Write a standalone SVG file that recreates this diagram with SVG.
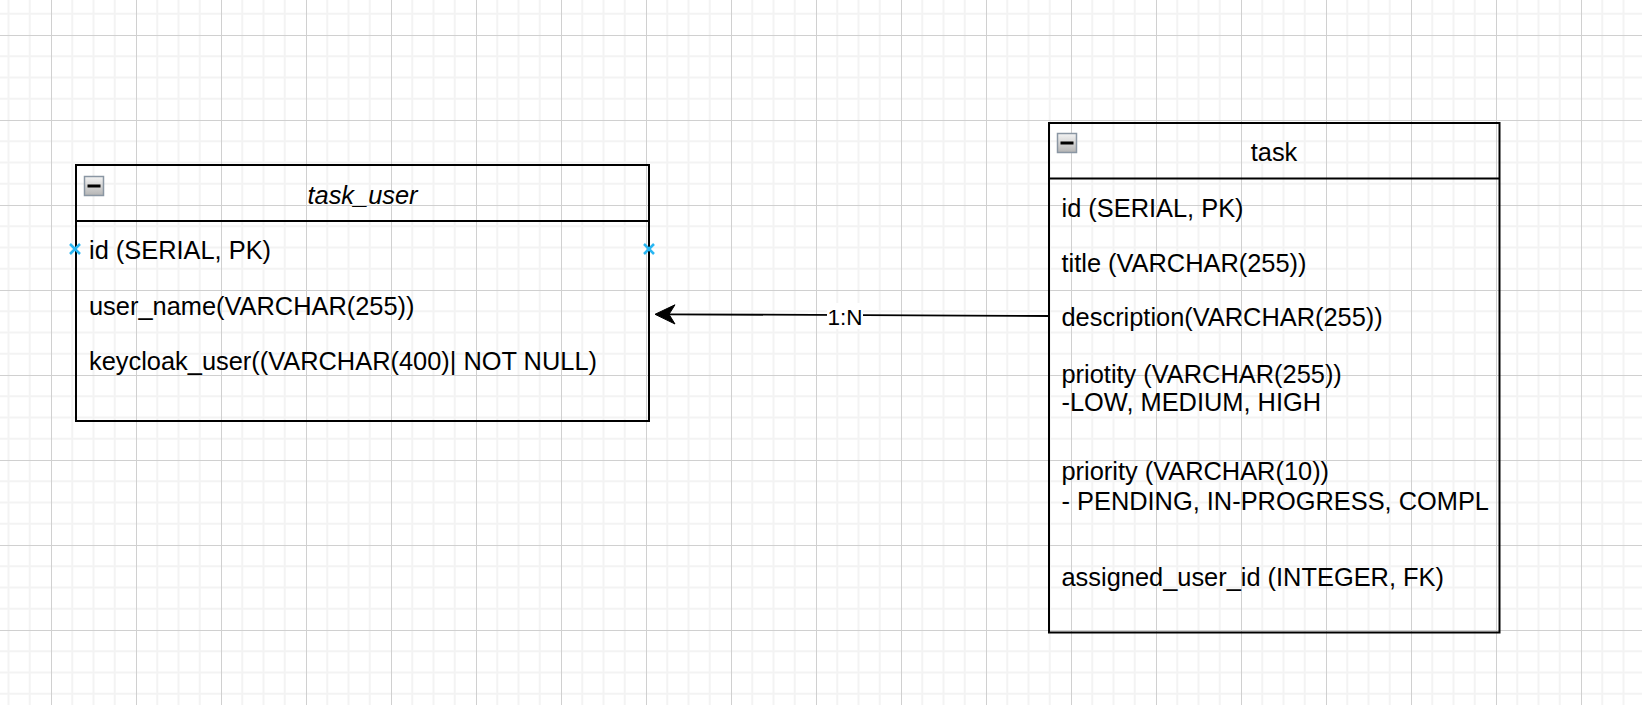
<svg xmlns="http://www.w3.org/2000/svg" width="1642" height="705" viewBox="0 0 1642 705">
  <style>
    .box { fill: none; stroke: #000; stroke-width: 2; }
    .sep { stroke: #000; stroke-width: 2; }
    .t { font-family: "Liberation Sans", Arial, sans-serif; font-size: 25.4px; fill: #000; }
    .title { text-anchor: middle; }
    .it { font-style: italic; }
    .lbl { font-family: "Liberation Sans", Arial, sans-serif; font-size: 22.5px; fill: #000; text-anchor: middle; }
    .edge { stroke: #000; stroke-width: 1.8; fill: none; }
    .cp { stroke: #29b6f2; stroke-width: 2.5; }
  </style>
  <defs>
    <pattern id="grid" patternUnits="userSpaceOnUse" x="51" y="35" width="85" height="85">
      <rect x="20.25" y="0" width="2" height="85" fill="#f3f3f3"/>
      <rect x="41.5" y="0" width="2" height="85" fill="#f3f3f3"/>
      <rect x="62.75" y="0" width="2" height="85" fill="#f3f3f3"/>
      <rect x="0" y="20.25" width="85" height="2" fill="#f3f3f3"/>
      <rect x="0" y="41.5" width="85" height="2" fill="#f3f3f3"/>
      <rect x="0" y="62.75" width="85" height="2" fill="#f3f3f3"/>
      <rect x="0" y="0" width="1" height="85" fill="#d0d0d0"/>
      <rect x="0" y="0" width="85" height="1" fill="#d0d0d0"/>
    </pattern>
    <linearGradient id="btn" x1="0" y1="0" x2="0" y2="1">
      <stop offset="0" stop-color="#f4f4f4"/>
      <stop offset="1" stop-color="#b4b4b4"/>
    </linearGradient>
    <g id="minus">
      <rect x="0.5" y="0.5" width="19" height="19" fill="url(#btn)" stroke="#8a96a3" stroke-width="1.5"/>
      <rect x="3.5" y="8.5" width="13" height="3" fill="#000"/>
    </g>
  </defs>

  <rect x="0" y="0" width="1642" height="705" fill="#ffffff"/>
  <rect x="0" y="0" width="1642" height="705" fill="url(#grid)"/>

  <g id="connectors">
    <line class="edge" x1="1049" y1="316" x2="668" y2="314.3"/>
    <polygon points="655,314.3 675,304.8 669,314.3 675,324" fill="#000" stroke="#000" stroke-width="1"/>
    <rect x="827" y="303" width="36" height="26" fill="#ffffff"/>
    <text class="lbl" x="845" y="325">1:N</text>
  </g>

  <g id="task_user">
    <rect class="box" x="76" y="165" width="573" height="256"/>
    <line class="sep" x1="76" y1="221" x2="649" y2="221"/>
    <use href="#minus" x="84" y="176"/>
    <text class="t title it" x="362.5" y="203.5">task_user</text>
    <text class="t" x="89" y="258.5">id (SERIAL, PK)</text>
    <text class="t" x="89" y="314.5">user_name(VARCHAR(255))</text>
    <text class="t" x="89" y="369.5">keycloak_user((VARCHAR(400)| NOT NULL)</text>
    <path class="cp" d="M70,244 L80,254 M80,244 L70,254"/>
    <path class="cp" d="M644,244 L654,254 M654,244 L644,254"/>
  </g>

  <g id="task">
    <rect class="box" x="1049" y="123" width="450.5" height="509.5"/>
    <line class="sep" x1="1049" y1="178.5" x2="1499.5" y2="178.5"/>
    <use href="#minus" x="1057" y="133"/>
    <text class="t title" x="1274" y="161">task</text>
    <text class="t" x="1061.5" y="217">id (SERIAL, PK)</text>
    <text class="t" x="1061.5" y="271.7">title (VARCHAR(255))</text>
    <text class="t" x="1061.5" y="326">description(VARCHAR(255))</text>
    <text class="t" x="1061.5" y="382.8">priotity (VARCHAR(255))</text>
    <text class="t" x="1061.5" y="411.3">-LOW, MEDIUM, HIGH</text>
    <text class="t" x="1061.5" y="480">priority (VARCHAR(10))</text>
    <text class="t" x="1061.5" y="509.5">- PENDING, IN-PROGRESS, COMPL</text>
    <text class="t" x="1061.5" y="586">assigned_user_id (INTEGER, FK)</text>
  </g>
</svg>
